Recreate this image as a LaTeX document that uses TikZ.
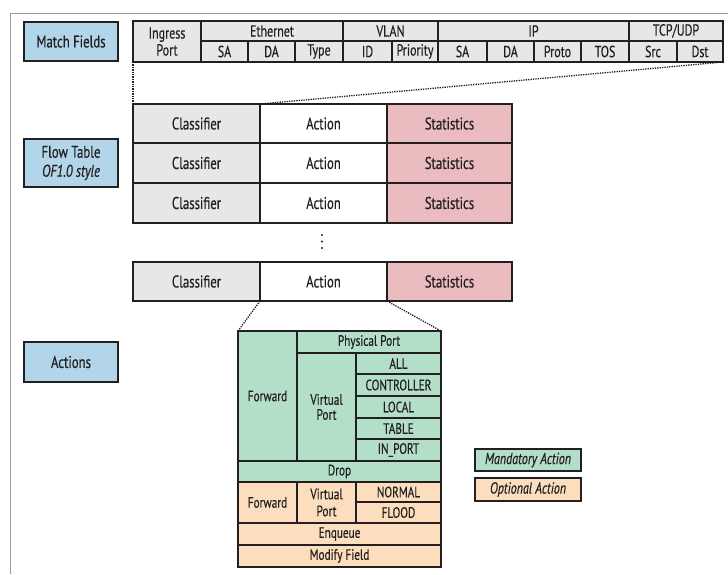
\documentclass[tikz,border=0pt]{standalone}
\usepackage{fontspec}
\setmainfont{PT Sans}[FakeStretch=0.75, FakeBold=0.4]
\definecolor{lblblue}{HTML}{B2D5EA}
\definecolor{cellgray}{HTML}{E7E7E7}
\definecolor{statpink}{HTML}{EBBCBF}
\definecolor{mandgreen}{HTML}{B3DEC7}
\definecolor{optpeach}{HTML}{FCDEBF}
\definecolor{ink}{HTML}{231F20}
\definecolor{framegray}{HTML}{9A9A9A}
% box with corners (x1,y1) and (x2,y2), measured in pixels from the top left
\newcommand\bx[7]{%
  \node[#1, minimum width={(#5-#3)*1pt}, minimum height={(#6-#4)*1pt}]
    (#2) at ({(#3+#5)/2},{(#4+#6)/2}) {#7};}
\begin{document}
\begin{tikzpicture}[x=1pt,y=-1pt,
  base/.style={rectangle, draw=ink, text=ink, inner sep=0pt, outer sep=0pt,
    align=center, line width=1.4pt},
  lbl/.style={base, fill=lblblue, line width=2pt,
    font=\fontsize{17}{19}\selectfont},
  hdr/.style={base, fill=cellgray, font=\fontsize{16}{17}\selectfont},
  flow/.style={base, line width=1.8pt, font=\fontsize{17}{17}\selectfont},
  cls/.style={flow, fill=cellgray},
  act/.style={flow, fill=white},
  sta/.style={flow, fill=statpink},
  mand/.style={base, fill=mandgreen, font=\fontsize{15}{15}\selectfont},
  opt/.style={base, fill=optpeach, font=\fontsize{15}{17}\selectfont},
  legend/.style={base, line width=1.8pt, font=\fontsize{16}{16}\selectfont\itshape},
  zoomline/.style={draw=ink, line width=1.3pt, dash pattern=on 1.3pt off 1.1pt}]
\useasboundingbox (0,0) rectangle (728,574);

% frame
\draw[framegray, line width=1pt] (10,574) -- (10,13) -- (728,13);

% section labels
\bx{lbl}{mf}{24}{22}{118}{61}{Match Fields}
\bx{lbl}{ft}{24}{139}{118}{187}{Flow Table\\\textit{OF1.0 style}}
\bx{lbl}{ac}{24}{342}{118}{382}{Actions}

% match fields header
\bx{hdr}{ing}{133}{21}{201}{62}{Ingress\\Port}
\bx{hdr}{eth}{201}{21}{343}{41}{Ethernet}
\bx{hdr}{vlan}{343}{21}{438}{41}{VLAN}
\bx{hdr}{ip}{438}{21}{629}{41}{IP}
\bx{hdr}{tcp}{629}{21}{723}{41}{TCP/UDP}
\bx{hdr}{esa}{201}{41}{248}{62}{SA}
\bx{hdr}{eda}{248}{41}{295}{62}{DA}
\bx{hdr}{etype}{295}{41}{343}{62}{Type}
\bx{hdr}{vid}{343}{41}{392}{62}{ID}
\bx{hdr}{vprio}{392}{41}{438}{62}{Priority}
\bx{hdr}{isa}{438}{41}{487}{62}{SA}
\bx{hdr}{ida}{487}{41}{534}{62}{DA}
\bx{hdr}{iproto}{534}{41}{581}{62}{Proto}
\bx{hdr}{itos}{581}{41}{629}{62}{TOS}
\bx{hdr}{tsrc}{629}{41}{677}{62}{Src}
\bx{hdr}{tdst}{677}{41}{723}{62}{Dst}
\draw[ink, line width=2pt] (133,21) rectangle (723,62);

% flow table
\bx{cls}{c1}{133}{104}{260}{143}{Classifier}
\bx{act}{a1}{260}{104}{387}{143}{Action}
\bx{sta}{s1}{387}{104}{512}{143}{Statistics}
\bx{cls}{c2}{133}{143}{260}{183}{Classifier}
\bx{act}{a2}{260}{143}{387}{183}{Action}
\bx{sta}{s2}{387}{143}{512}{183}{Statistics}
\bx{cls}{c3}{133}{183}{260}{223}{Classifier}
\bx{act}{a3}{260}{183}{387}{223}{Action}
\bx{sta}{s3}{387}{183}{512}{223}{Statistics}
\bx{cls}{c4}{133}{262}{260}{301}{Classifier}
\bx{act}{a4}{260}{262}{387}{301}{Action}
\bx{sta}{s4}{387}{262}{512}{301}{Statistics}
\foreach \yy in {235,241.5,248} \fill[ink] (322,\yy) circle (1.1pt);

% actions: mandatory
\bx{mand}{fwdm}{238}{331}{297}{461}{Forward}
\bx{mand}{phys}{297}{331}{441}{353}{Physical Port}
\bx{mand}{vpm}{297}{353}{356}{461}{Virtual\\Port}
\bx{mand}{all}{356}{353}{441}{374}{ALL}
\bx{mand}{ctrl}{356}{374}{441}{396}{CONTROLLER}
\bx{mand}{local}{356}{396}{441}{418}{LOCAL}
\bx{mand}{table}{356}{418}{441}{439}{TABLE}
\bx{mand}{inport}{356}{439}{441}{461}{IN\_PORT}
\bx{mand}{drop}{238}{461}{441}{482}{Drop}
% actions: optional
\bx{opt}{fwdo}{238}{482}{297}{523}{Forward}
\bx{opt}{vpo}{297}{482}{356}{523}{Virtual\\Port}
\bx{opt}{normal}{356}{482}{441}{502}{NORMAL}
\bx{opt}{flood}{356}{502}{441}{523}{FLOOD}
\bx{opt}{enq}{238}{523}{441}{545}{Enqueue}
\bx{opt}{modf}{238}{545}{441}{567}{Modify Field}

% legend
\bx{legend, fill=mandgreen}{lgm}{475}{449}{581}{471}{Mandatory Action}
\bx{legend, fill=optpeach}{lgo}{475}{478}{581}{501}{Optional Action}

% zoom lines
\draw[zoomline] (ing.south west) -- (c1.north west);
\draw[zoomline] (tdst.south east) -- (c1.north east);
\draw[zoomline] (c4.south east) -- (fwdm.north west);
\draw[zoomline] (a4.south east) -- (phys.north east);
\end{tikzpicture}
\end{document}
